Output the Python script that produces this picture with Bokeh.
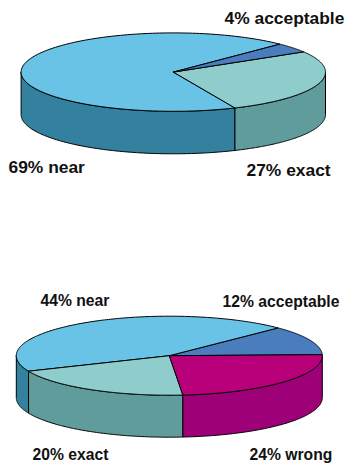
import numpy as np
from bokeh.core.properties import value
from bokeh.embed import file_html
from bokeh.models import ColumnDataSource, Range1d
from bokeh.plotting import figure
from bokeh.resources import INLINE

# Upper pie: shares in percent, running counter-clockwise from its start angle
upper_names = ["near", "exact", "acceptable"]
upper_values = [69, 27, 4]
upper_start = 45.5

# Lower pie
lower_names = ["acceptable", "near", "exact", "wrong"]
lower_values = [12, 44, 20, 24]
lower_start = 1.5

TOP_COLORS = {"near": "#68C3E7", "exact": "#8FCDCD", "acceptable": "#4A7DBE", "wrong": "#B9007B"}
SIDE_COLORS = {"near": "#33809F", "exact": "#609C9C", "acceptable": "#33809F", "wrong": "#9E0078"}

# Label text and anchor (left edge, vertical middle) in page pixels
upper_labels = [("4% acceptable", 224, 17.5), ("69% near", 8, 166), ("27% exact", 246, 169)]
lower_labels = [("44% near", 40, 300), ("12% acceptable", 222, 301), ("20% exact", 32, 453.5), ("24% wrong", 249, 453.5)]

p = figure(width=346, height=465, x_range=Range1d(0, 346), y_range=Range1d(465, 0),
           output_backend="svg", toolbar_location=None, min_border=0)
p.xaxis.visible = False
p.yaxis.visible = False
p.xgrid.visible = False
p.ygrid.visible = False
p.outline_line_color = None
p.background_fill_color = "white"


def draw_pie(names, values, start, cx, cy, rx, ry, depth):
    spans = np.array(values, dtype=float) / sum(values) * 360.0
    ends = start + np.cumsum(spans)
    begins = ends - spans

    side = dict(xs=[], ys=[], color=[])
    top = dict(xs=[], ys=[], color=[])
    for name, a0, a1 in zip(names, begins, ends):
        theta = np.radians(np.linspace(a0, a1, 181))
        ex = cx + rx * np.cos(theta)
        ey = cy - ry * np.sin(theta)
        top["xs"].append(np.r_[cx, ex].tolist())
        top["ys"].append(np.r_[cy, ey].tolist())
        top["color"].append(TOP_COLORS[name])

        # The rim is visible only on the near half of the disc
        for lo, hi in ((180.0, 360.0), (540.0, 720.0)):
            v0, v1 = max(a0, lo), min(a1, hi)
            if v1 > v0:
                t = np.radians(np.linspace(v0, v1, 121))
                rim_x = cx + rx * np.cos(t)
                rim_y = cy - ry * np.sin(t)
                side["xs"].append(np.r_[rim_x, rim_x[::-1]].tolist())
                side["ys"].append(np.r_[rim_y, rim_y[::-1] + depth].tolist())
                side["color"].append(SIDE_COLORS[name])

    p.patches("xs", "ys", source=ColumnDataSource(side), fill_color="color",
              line_color="#000000", line_width=1)
    p.patches("xs", "ys", source=ColumnDataSource(top), fill_color="color",
              line_color="#000000", line_width=1)


def draw_labels(labels, size):
    p.text([l[1] for l in labels], [l[2] for l in labels], text=[l[0] for l in labels],
           text_font=value("Liberation Sans"), text_font_style="bold",
           text_font_size=size, text_color="#111111",
           text_align="left", text_baseline="middle")


draw_pie(upper_names, upper_values, upper_start, 172.8, 71.6, 152.2, 39.2, 42.5)
draw_pie(lower_names, lower_values, lower_start, 168.8, 355.2, 153, 39.5, 42.0)
draw_labels(upper_labels, "17.4px")
draw_labels(lower_labels, "15.7px")

open("out.html", "w").write(file_html(p, INLINE))
